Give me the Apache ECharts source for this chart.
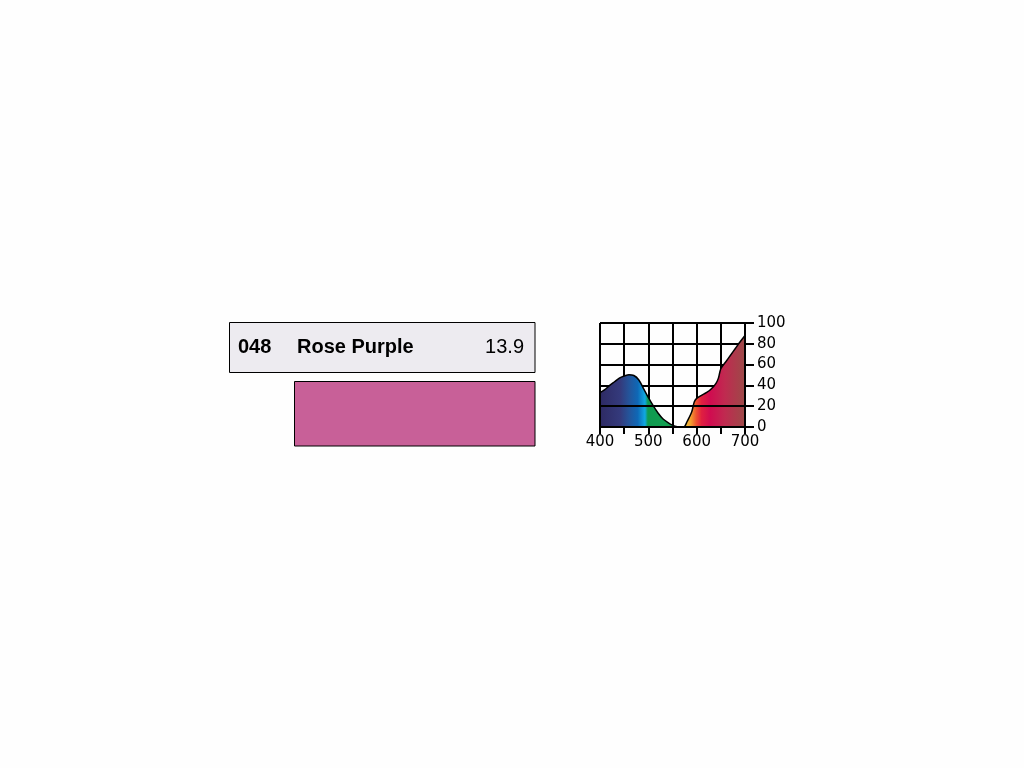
<!DOCTYPE html>
<html>
<head>
<meta charset="utf-8">
<script src="https://cdn.jsdelivr.net/npm/echarts@6/dist/echarts.min.js"></script>
<style>
  html, body { margin: 0; padding: 0; background: #fefefe; }
  #chart { width: 1024px; height: 768px; }
</style>
</head>
<body>
<div id="chart"></div>
<script>
var chart = echarts.init(document.getElementById('chart'));

// filter info
var filterCode = '048';
var filterName = 'Rose Purple';
var filterTrans = '13.9';
var swatchColor = '#c86098';

// spectral transmission curve (nm, %)
var wavelengths = [400, 410, 420, 430, 440, 450, 460, 470, 480, 490, 500, 510, 520, 530, 540, 550, 560, 570, 575,
  580, 590, 595, 600, 610, 620, 630, 640, 645, 650, 660, 670, 680, 690, 700];
var transmission = [33, 36, 40, 43.5, 47, 49, 50.3, 49.5, 45.5, 37, 28.5, 20.5, 13.5, 8, 4.5, 1.8, 0.3, 0, 0.5,
  5, 15, 24, 27.5, 30.5, 33, 36.5, 42, 47, 56, 62.5, 69, 75.5, 82, 88];

var xTicks = [400, 500, 600, 700];
var yTicks = [0, 20, 40, 60, 80, 100];

var curve = wavelengths.map(function (w, i) { return [w, transmission[i]]; });

var axisFont = 'DejaVu Sans';
var black = '#000';

var option = {
  backgroundColor: '#fefefe',
  animation: false,
  grid: { left: 600, top: 323, width: 145, height: 104 },
  xAxis: {
    type: 'value', min: 400, max: 700, interval: 50,
    axisLine: { show: true, lineStyle: { color: black, width: 2 } },
    axisTick: { show: true, length: 7, lineStyle: { color: black, width: 2 } },
    splitLine: { show: true, lineStyle: { color: black, width: 2 } },
    axisLabel: {
      margin: 8, color: black, fontFamily: axisFont, fontSize: 15,
      formatter: function (v) { return xTicks.indexOf(v) >= 0 ? String(v) : ''; }
    }
  },
  yAxis: {
    type: 'value', position: 'right', min: 0, max: 100, interval: 20,
    axisLine: { show: true, lineStyle: { color: black, width: 2 } },
    axisTick: { show: true, inside: false, length: 9, lineStyle: { color: black, width: 2 } },
    splitLine: { show: true, lineStyle: { color: black, width: 2 } },
    axisLabel: {
      margin: 12, color: black, fontFamily: axisFont, fontSize: 15,
      formatter: function (v) { return yTicks.indexOf(v) >= 0 ? String(v) : ''; }
    }
  },
  series: [{
    type: 'line',
    data: curve,
    smooth: 0.3,
    symbol: 'none',
    lineStyle: { color: black, width: 1.5 },
    areaStyle: {
      opacity: 1,
      color: new echarts.graphic.LinearGradient(0, 0, 1, 0, [
        { offset: 0, color: '#2e2a63' },
        { offset: 0.14, color: '#343a7c' },
        { offset: 0.2, color: '#24549a' },
        { offset: 0.26, color: '#0f68b6' },
        { offset: 0.31, color: '#10a8e2' },
        { offset: 0.33, color: '#0f9a50' },
        { offset: 0.5, color: '#12a050' },
        { offset: 0.575, color: '#f5d040' },
        { offset: 0.625, color: '#f2a030' },
        { offset: 0.665, color: '#ee5030' },
        { offset: 0.70, color: '#e02040' },
        { offset: 0.76, color: '#d00c50' },
        { offset: 0.86, color: '#c02a50' },
        { offset: 1, color: '#9c4a48' }
      ])
    },
    // frame and the 20% line sit above the fill
    markLine: {
      silent: true,
      symbol: 'none',
      label: { show: false },
      lineStyle: { color: black, width: 2, type: 'solid' },
      data: [{ xAxis: 400 }, { xAxis: 700 }, { yAxis: 0 }, { yAxis: 20 }, { yAxis: 100 }]
    }
  }],
  graphic: [
    {
      type: 'rect',
      shape: { x: 229.5, y: 322.5, width: 305.5, height: 50 },
      style: { fill: '#edebf0', stroke: black, lineWidth: 1 }
    },
    {
      type: 'text',
      style: { text: filterCode, x: 238, y: 347, font: 'bold 20px "Liberation Sans", Arial, sans-serif',
        fill: black, textAlign: 'left', textVerticalAlign: 'middle' }
    },
    {
      type: 'text',
      style: { text: filterName, x: 297, y: 347, font: 'bold 20px "Liberation Sans", Arial, sans-serif',
        fill: black, textAlign: 'left', textVerticalAlign: 'middle' }
    },
    {
      type: 'text',
      style: { text: filterTrans, x: 524, y: 347, font: '20px "Liberation Sans", Arial, sans-serif',
        fill: black, textAlign: 'right', textVerticalAlign: 'middle' }
    },
    {
      type: 'rect',
      shape: { x: 294.5, y: 381.5, width: 240.5, height: 64.5 },
      style: { fill: swatchColor, stroke: black, lineWidth: 1 }
    }
  ]
};

chart.setOption(option);
window.onresize = chart.resize;
</script>
</body>
</html>
